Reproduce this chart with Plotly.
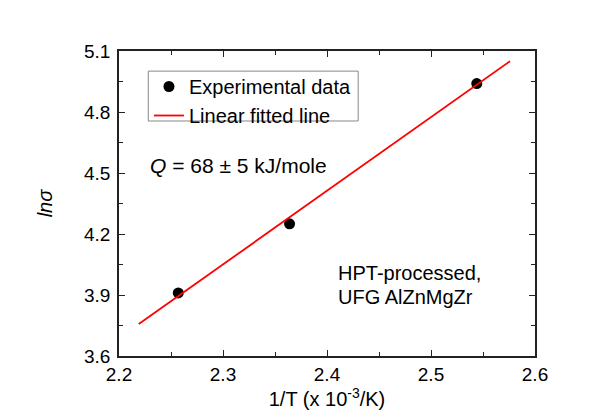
import plotly.graph_objects as go

# Data
exp_x = [2.257, 2.364, 2.544]
exp_y = [3.91, 4.25, 4.94]
fit_x = [2.219, 2.576]
fit_y = [3.757, 5.05]

x_ticks = [2.2, 2.3, 2.4, 2.5, 2.6]
y_ticks = [3.6, 3.9, 4.2, 4.5, 4.8, 5.1]

FONT = "Liberation Sans, Arial, sans-serif"

fig = go.Figure()
fig.add_trace(go.Scatter(
    x=exp_x, y=exp_y, mode="markers", name="Experimental data",
    marker=dict(color="black", size=11),
))
fig.add_trace(go.Scatter(
    x=fit_x, y=fit_y, mode="lines", name="Linear fitted line",
    line=dict(color="#ff0000", width=1.8),
))

axis_common = dict(
    showline=True, linecolor="#222", linewidth=1.5, mirror="allticks",
    ticks="inside", ticklen=6, tickwidth=1.2, tickcolor="#222",
    showgrid=False, zeroline=False, automargin=False,
    tickfont=dict(family=FONT, size=19, color="black"),
    minor=dict(ticks="inside", ticklen=4, tickwidth=1.2, tickcolor="#222", showgrid=False),
)

fig.update_xaxes(
    range=[2.2, 2.6], tickvals=x_ticks, ticktext=[f"{v:.1f}" for v in x_ticks],
    title=dict(text="1/T (x 10<sup>-3</sup>/K)", font=dict(family=FONT, size=20, color="black"), standoff=7),
    **axis_common,
)
fig.update_xaxes(minor=dict(dtick=0.05, tick0=2.2))
fig.update_yaxes(
    range=[3.6, 5.1], tickvals=y_ticks, ticktext=[f"{v:.1f}" for v in y_ticks],
    title=dict(text="<i>lnσ</i>", font=dict(family=FONT, size=20, color="black"), standoff=26),
    ticklabelstandoff=3,
    **axis_common,
)
fig.update_yaxes(minor=dict(dtick=0.15, tick0=3.6))

fig.add_annotation(
    xref="paper", yref="paper", x=0.07, y=0.623, xanchor="left", yanchor="middle",
    text="<i>Q</i> = 68 ± 5 kJ/mole", showarrow=False,
    font=dict(family=FONT, size=21, color="black"),
)
fig.add_annotation(
    xref="paper", yref="paper", x=0.522, y=0.272, xanchor="left", yanchor="middle",
    text="HPT-processed,", showarrow=False, align="left",
    font=dict(family=FONT, size=20, color="black"),
)
fig.add_annotation(
    xref="paper", yref="paper", x=0.522, y=0.193, xanchor="left", yanchor="middle",
    text="UFG AlZnMgZr", showarrow=False, align="left",
    font=dict(family=FONT, size=20, color="black"),
)

# legend frame
fig.add_shape(
    type="rect", xref="paper", yref="paper",
    x0=0.0704, x1=0.575, y0=0.7705, y1=0.934,
    line=dict(color="#888", width=1), fillcolor="rgba(0,0,0,0)", layer="below",
)

fig.update_layout(
    width=597, height=408,
    margin=dict(l=111, r=70, t=43, b=60, autoexpand=False),
    paper_bgcolor="white", plot_bgcolor="white",
    showlegend=True,
    legend=dict(
        x=0.072, y=0.9475, xanchor="left", yanchor="top",
        borderwidth=0, bgcolor="rgba(0,0,0,0)",
        font=dict(family=FONT, size=20, color="black"),
        tracegroupgap=0, itemwidth=30,
    ),
)

fig.write_html("out.html")
